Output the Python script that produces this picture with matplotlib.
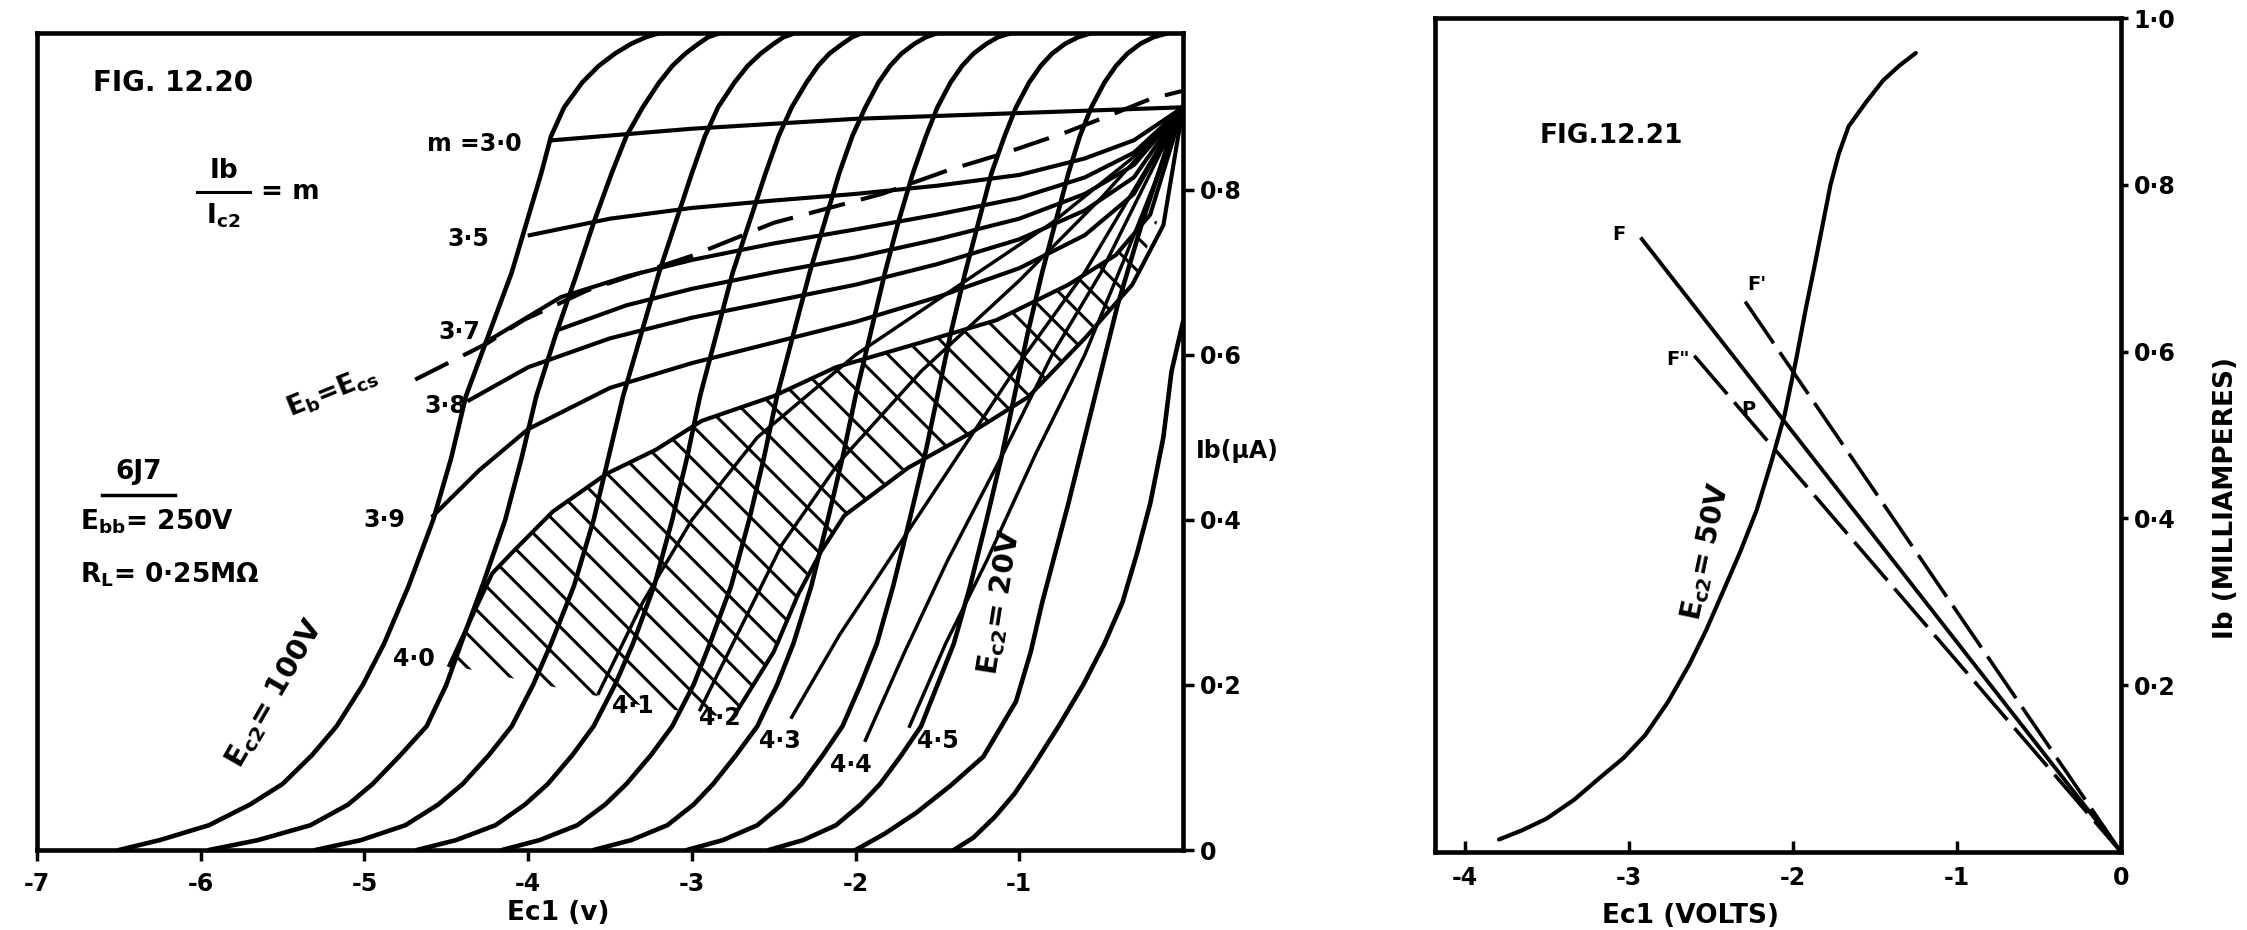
import matplotlib
matplotlib.use('Agg')
import matplotlib.pyplot as plt

plt.rcParams['font.family'] = ['DejaVu Sans']
plt.rcParams['font.weight'] = 'bold'
plt.rcParams['mathtext.fontset'] = 'dejavusans'
plt.rcParams['mathtext.default'] = 'bf'
plt.rcParams['hatch.linewidth'] = 2.2

# ---------------- FIG 12.20 data ----------------
# Ec2-constant transfer curves: Ec1 (V) read at given plate-current levels
ecz_levels = [0, 0.012, 0.03, 0.055, 0.08, 0.115, 0.15, 0.2, 0.25, 0.32, 0.4, 0.475, 0.55,
              0.625, 0.7, 0.76, 0.82, 0.865, 0.9, 0.93, 0.95, 0.965, 0.977, 0.985, 0.99]
ecz_c1 = [-6.5, -6.25, -5.95, -5.7, -5.5, -5.32, -5.17, -5.01, -4.88, -4.73, -4.58, -4.47, -4.38,
          -4.24, -4.1, -4.01, -3.92, -3.86, -3.78, -3.67, -3.57, -3.47, -3.37, -3.28, -3.2]
ecz_c2 = [-5.95, -5.65, -5.33, -5.1, -4.95, -4.78, -4.62, -4.5, -4.41, -4.28, -4.14, -4.04, -3.95,
          -3.83, -3.7, -3.6, -3.49, -3.4, -3.3, -3.2, -3.12, -3.04, -2.96, -2.9, -2.83]
ecz_c3 = [-5.3, -5.02, -4.75, -4.55, -4.4, -4.24, -4.1, -3.97, -3.86, -3.72, -3.6, -3.51, -3.42,
          -3.31, -3.2, -3.1, -3.0, -2.92, -2.84, -2.74, -2.66, -2.58, -2.5, -2.44, -2.37]
ecz_c4 = [-4.68, -4.44, -4.2, -4.02, -3.88, -3.73, -3.6, -3.47, -3.36, -3.23, -3.12, -3.03, -2.95,
          -2.85, -2.75, -2.65, -2.55, -2.47, -2.39, -2.3, -2.23, -2.16, -2.08, -2.02, -1.96]
ecz_c5 = [-4.16, -3.93, -3.7, -3.53, -3.4, -3.25, -3.12, -2.99, -2.89, -2.76, -2.65, -2.56, -2.48,
          -2.38, -2.28, -2.19, -2.1, -2.02, -1.94, -1.86, -1.79, -1.72, -1.64, -1.57, -1.5]
ecz_c6 = [-3.6, -3.37, -3.15, -2.99, -2.87, -2.73, -2.6, -2.48, -2.38, -2.27, -2.17, -2.08, -2.0,
          -1.91, -1.82, -1.74, -1.65, -1.57, -1.5, -1.42, -1.35, -1.28, -1.2, -1.13, -1.05]
ecz_c7 = [-3.03, -2.81, -2.6, -2.45, -2.33, -2.2, -2.08, -1.97, -1.87, -1.77, -1.67, -1.58, -1.5,
          -1.42, -1.33, -1.25, -1.17, -1.09, -1.02, -0.94, -0.87, -0.8, -0.72, -0.64, -0.56]
ecz_c8 = [-2.53, -2.32, -2.12, -1.97, -1.85, -1.72, -1.6, -1.5, -1.4, -1.3, -1.2, -1.11, -1.03,
          -0.95, -0.86, -0.78, -0.7, -0.63, -0.56, -0.48, -0.41, -0.34, -0.26, -0.18, -0.09]
ecz_c9_v = [-2.0, -1.82, -1.63, -1.42, -1.22, -1.02, -0.93, -0.86, -0.78, -0.7, -0.55, -0.4, -0.25, -0.1, 0.0]
ecz_c9_i = [0.0, 0.02, 0.045, 0.078, 0.113, 0.18, 0.24, 0.30, 0.36, 0.42, 0.54, 0.66, 0.76, 0.85, 0.9]
ecz_c10_v = [-1.4, -1.28, -1.15, -1.03, -0.92, -0.76, -0.61, -0.48, -0.37, -0.28, -0.2, -0.12, -0.07, 0.0]
ecz_c10_i = [0.0, 0.015, 0.04, 0.068, 0.10, 0.15, 0.2, 0.25, 0.30, 0.36, 0.42, 0.5, 0.58, 0.64]

# constant-m curves (Ib/Ic2 = m)
m30_v = [-3.85, -3.0, -2.0, -1.0, 0.0]
m30_i = [0.86, 0.874, 0.886, 0.893, 0.9]
m35_v = [-3.99, -3.5, -3.0, -2.5, -2.0, -1.5, -1.0, -0.6, -0.3, 0.0]
m35_i = [0.745, 0.765, 0.778, 0.787, 0.795, 0.805, 0.818, 0.838, 0.86, 0.9]
m37_v = [-4.22, -3.8, -3.4, -3.0, -2.5, -2.0, -1.5, -1.0, -0.6, -0.3, 0.0]
m37_i = [0.62, 0.67, 0.695, 0.715, 0.735, 0.752, 0.77, 0.79, 0.815, 0.845, 0.9]
m375_v = [-3.82, -3.4, -3.0, -2.5, -2.0, -1.5, -1.0, -0.6, -0.3, 0.0]
m375_i = [0.63, 0.66, 0.68, 0.70, 0.718, 0.74, 0.765, 0.795, 0.83, 0.9]
m38_v = [-4.36, -4.0, -3.5, -3.0, -2.5, -2.0, -1.5, -1.0, -0.6, -0.3, 0.0]
m38_i = [0.545, 0.585, 0.62, 0.645, 0.665, 0.685, 0.71, 0.74, 0.775, 0.815, 0.9]
m39_v = [-4.58, -4.3, -4.0, -3.5, -3.0, -2.5, -2.0, -1.5, -1.0, -0.6, -0.3, 0.0]
m39_i = [0.405, 0.46, 0.51, 0.56, 0.59, 0.615, 0.64, 0.67, 0.705, 0.745, 0.795, 0.9]
m40_v = [-4.48, -4.35, -4.22, -4.1, -3.85, -3.52, -3.22, -2.94, -2.5, -2.12, -1.6, -1.14, -0.7, -0.41, -0.2, 0.0]
m40_i = [0.224, 0.28, 0.335, 0.36, 0.41, 0.456, 0.485, 0.52, 0.55, 0.585, 0.615, 0.642, 0.685, 0.721, 0.77, 0.9]
m42b_v = [-2.75, -2.5, -2.35, -2.21, -2.07, -1.68, -1.3, -0.945, -0.6, -0.31, -0.12, 0.0]
m42b_i = [0.16, 0.24, 0.31, 0.362, 0.405, 0.463, 0.505, 0.549, 0.62, 0.685, 0.757, 0.9]
m41_v = [-3.57, -3.3, -3.0, -2.6, -2.0, -1.4, -0.8, -0.3, 0.0]
m41_i = [0.19, 0.3, 0.4, 0.5, 0.6, 0.68, 0.76, 0.84, 0.9]
m42_v = [-2.95, -2.7, -2.45, -2.1, -1.6, -1.0, -0.5, 0.0]
m42_i = [0.17, 0.27, 0.37, 0.47, 0.58, 0.69, 0.79, 0.9]
m43_v = [-2.39, -2.1, -1.8, -1.4, -1.0, -0.6, -0.3, 0.0]
m43_i = [0.161, 0.26, 0.35, 0.47, 0.59, 0.7, 0.8, 0.9]
m44_v = [-1.94, -1.7, -1.44, -1.1, -0.8, -0.5, -0.25, 0.0]
m44_i = [0.133, 0.24, 0.35, 0.48, 0.6, 0.7, 0.8, 0.9]
m45_v = [-1.67, -1.45, -1.2, -0.9, -0.6, -0.35, -0.15, 0.0]
m45_i = [0.15, 0.25, 0.35, 0.48, 0.6, 0.72, 0.82, 0.9]

# Eb = Ecs dashed locus
ebecs_v = [-4.69, -4.25, -4.03, -3.64, -3.0, -2.5, -1.84, -1.43, -1.08, -0.71, -0.45, -0.2, 0.0]
ebecs_i = [0.57, 0.614, 0.642, 0.678, 0.72, 0.76, 0.795, 0.824, 0.845, 0.87, 0.89, 0.91, 0.92]

# hatched band outline
hatch_v = [-4.48, -4.35, -4.22, -4.1, -3.85, -3.52, -3.22, -2.94, -2.5, -2.12, -1.6, -1.14, -0.7, -0.41, -0.15,
           -0.31, -0.6, -0.945, -1.3, -1.68, -2.07, -2.21, -2.35, -2.5, -2.75, -3.3, -3.9]
hatch_i = [0.224, 0.28, 0.335, 0.36, 0.41, 0.456, 0.485, 0.52, 0.55, 0.585, 0.615, 0.642, 0.685, 0.721, 0.765,
           0.685, 0.62, 0.549, 0.505, 0.463, 0.405, 0.362, 0.31, 0.24, 0.16, 0.175, 0.2]

left_xticks = [-7, -6, -5, -4, -3, -2, -1]
left_xticklabels = ['-7', '-6', '-5', '-4', '-3', '-2', '-1']
left_yticks = [0, 0.2, 0.4, 0.6, 0.8]
left_yticklabels = ['0', '0·2', '0·4', '0·6', '0·8']

# ---------------- FIG 12.21 data ----------------
r_curve_v = [-3.79, -3.65, -3.5, -3.33, -3.17, -3.03, -2.9, -2.76, -2.63, -2.53, -2.43, -2.32, -2.22,
             -2.13, -2.05, -1.98, -1.92, -1.87, -1.82, -1.77, -1.72, -1.66, -1.55, -1.45, -1.35, -1.25]
r_curve_i = [0.015, 0.026, 0.04, 0.063, 0.09, 0.113, 0.14, 0.18, 0.225, 0.265, 0.31, 0.36, 0.41,
             0.468, 0.524, 0.59, 0.652, 0.70, 0.75, 0.80, 0.837, 0.87, 0.90, 0.925, 0.943, 0.958]
load_f_v = [-2.92, 0.0]
load_f_i = [0.735, 0.0]
load_f1_v = [-2.29, 0.0]
load_f1_i = [0.66, 0.0]
load_f2_v = [-2.6, 0.0]
load_f2_i = [0.595, 0.0]
right_xticks = [-4, -3, -2, -1, 0]
right_xticklabels = ['-4', '-3', '-2', '-1', '0']
right_yticks = [0.2, 0.4, 0.6, 0.8, 1.0]
right_yticklabels = ['0·2', '0·4', '0·6', '0·8', '1·0']

# ---------------- figure ----------------
W, H = 2247, 930
fig = plt.figure(figsize=(W / 100, H / 100), dpi=100)
fig.patch.set_facecolor('white')

LW = 3.3
FS = 17

axL = fig.add_axes([37 / W, 1 - 850 / H, (1183 - 37) / W, (850 - 33) / H])
axL.set_xlim(-7, 0)
axL.set_ylim(0, 0.99)

for c in [ecz_c1, ecz_c2, ecz_c3, ecz_c4, ecz_c5, ecz_c6, ecz_c7, ecz_c8]:
    axL.plot(c, ecz_levels, color='black', lw=LW, solid_capstyle='round', solid_joinstyle='round')
axL.plot(ecz_c9_v, ecz_c9_i, color='black', lw=LW, solid_joinstyle='round')
axL.plot(ecz_c10_v, ecz_c10_i, color='black', lw=LW, solid_joinstyle='round')

for mv, mi in [(m30_v, m30_i), (m35_v, m35_i), (m37_v, m37_i), (m375_v, m375_i), (m38_v, m38_i),
               (m39_v, m39_i), (m40_v, m40_i), (m42b_v, m42b_i)]:
    axL.plot(mv, mi, color='black', lw=LW * 0.9, solid_joinstyle='round')
for mv, mi in [(m41_v, m41_i), (m42_v, m42_i), (m43_v, m43_i), (m44_v, m44_i), (m45_v, m45_i)]:
    axL.plot(mv, mi, color='black', lw=LW * 0.75, solid_joinstyle='round')

axL.plot(ebecs_v, ebecs_i, color='black', lw=LW * 0.9, dashes=(9, 4))
axL.fill(hatch_v, hatch_i, facecolor='none', edgecolor='black', hatch='\\', linewidth=0)

for s in axL.spines.values():
    s.set_linewidth(3.3)
axL.set_xticks(left_xticks)
axL.set_xticklabels(left_xticklabels, fontsize=FS)
axL.yaxis.tick_right()
axL.set_yticks(left_yticks)
axL.set_yticklabels(left_yticklabels, fontsize=FS)
axL.tick_params(axis='x', direction='out', length=8, width=2.5, pad=8)
axL.tick_params(axis='y', direction='out', length=8, width=2.5, pad=4)

txt = dict(color='black', fontsize=FS, fontweight='bold')
axL.text(-6.66, 0.93, 'FIG. 12.20', ha='left', va='center', fontsize=20, fontweight='bold')
# Ib / Ic2 = m
axL.text(-5.86, 0.823, 'Ib', ha='center', va='center', fontsize=19, fontweight='bold')
axL.plot([-6.02, -5.70], [0.797, 0.797], color='black', lw=2.2)
axL.text(-5.86, 0.768, r'I$_{c2}$', ha='center', va='center', fontsize=19, fontweight='bold')
axL.text(-5.45, 0.797, '= m', ha='center', va='center', fontsize=19, fontweight='bold')

axL.text(-4.04, 0.855, 'm =3·0', ha='right', va='center', **txt)
axL.text(-4.24, 0.74, '3·5', ha='right', va='center', **txt)
axL.text(-4.29, 0.628, '3·7', ha='right', va='center', **txt)
axL.text(-4.38, 0.538, '3·8', ha='right', va='center', **txt)
axL.text(-5.2, 0.555, r'$E_b$=$E_{cs}$', ha='center', va='center', rotation=22, fontsize=19, fontweight='bold')
axL.text(-4.88, 0.40, '3·9', ha='center', va='center', **txt)
axL.text(-6.38, 0.458, '6J7', ha='center', va='center', fontsize=19, fontweight='bold')
axL.plot([-6.6, -6.16], [0.43, 0.43], color='black', lw=2.5)
axL.text(-6.74, 0.398, r'$E_{bb}$= 250V', ha='left', va='center', fontsize=19, fontweight='bold')
axL.text(-6.74, 0.333, r'$R_L$= 0·25M$\Omega$', ha='left', va='center', fontsize=19, fontweight='bold')
for lab, (lv, li) in zip(['4·0', '4·1', '4·2', '4·3', '4·4', '4·5'],
                         [(-4.70, 0.232), (-3.36, 0.175), (-2.83, 0.16), (-2.46, 0.132), (-2.03, 0.103), (-1.5, 0.132)]):
    axL.text(lv, li, lab, ha='center', va='center', **txt)
axL.text(-5.55, 0.19, r'$E_{c2}$= 100V', ha='center', va='center', rotation=60, fontsize=21, fontweight='bold')
axL.text(-1.12, 0.30, r'$E_{c2}$= 20V', ha='center', va='center', rotation=81, fontsize=21, fontweight='bold')

fig.text(1196 / W, 1 - 451 / H, 'Ib(μA)', ha='left', va='center', fontsize=FS, fontweight='bold')
fig.text(558 / W, 1 - 913 / H, 'Ec1 (v)', ha='center', va='center', fontsize=19, fontweight='bold')

# ---------------- right panel ----------------
axR = fig.add_axes([1435 / W, 1 - 852 / H, (2121 - 1435) / W, (852 - 18) / H])
axR.set_xlim(-4.18, 0)
axR.set_ylim(0, 1.0)
axR.plot(r_curve_v, r_curve_i, color='black', lw=3.0, solid_capstyle='round', solid_joinstyle='round')
axR.plot(load_f_v, load_f_i, color='black', lw=2.8)
axR.plot(load_f1_v, load_f1_i, color='black', lw=2.6, dashes=(14, 3))
axR.plot(load_f2_v, load_f2_i, color='black', lw=2.6, dashes=(14, 3))
for s in axR.spines.values():
    s.set_linewidth(3.3)
axR.set_xticks(right_xticks)
axR.set_xticklabels(right_xticklabels, fontsize=FS)
axR.yaxis.tick_right()
axR.set_yticks(right_yticks)
axR.set_yticklabels(right_yticklabels, fontsize=FS)
axR.tick_params(axis='x', direction='in', length=8, width=2.5, pad=10)
axR.tick_params(axis='y', direction='out', length=5, width=2.5, pad=4)

axR.text(-3.54, 0.858, 'FIG.12.21', ha='left', va='center', fontsize=19, fontweight='bold')
axR.text(-3.06, 0.74, 'F', ha='center', va='center', fontsize=14, fontweight='bold')
axR.text(-2.22, 0.68, "F'", ha='center', va='center', fontsize=14, fontweight='bold')
axR.text(-2.7, 0.59, 'F"', ha='center', va='center', fontsize=14, fontweight='bold')
axR.text(-2.27, 0.53, 'P', ha='center', va='center', fontsize=14, fontweight='bold')
axR.text(-2.53, 0.36, r'$E_{c2}$= 50V', ha='center', va='center', rotation=78, fontsize=20, fontweight='bold')

fig.text(1690 / W, 1 - 916 / H, 'Ec1 (VOLTS)', ha='center', va='center', fontsize=19, fontweight='bold')
fig.text(2226 / W, 1 - 498 / H, 'Ib (MILLIAMPERES)', ha='center', va='center', rotation=90, fontsize=19, fontweight='bold')

fig.savefig('out.png', dpi=100, facecolor='white')
